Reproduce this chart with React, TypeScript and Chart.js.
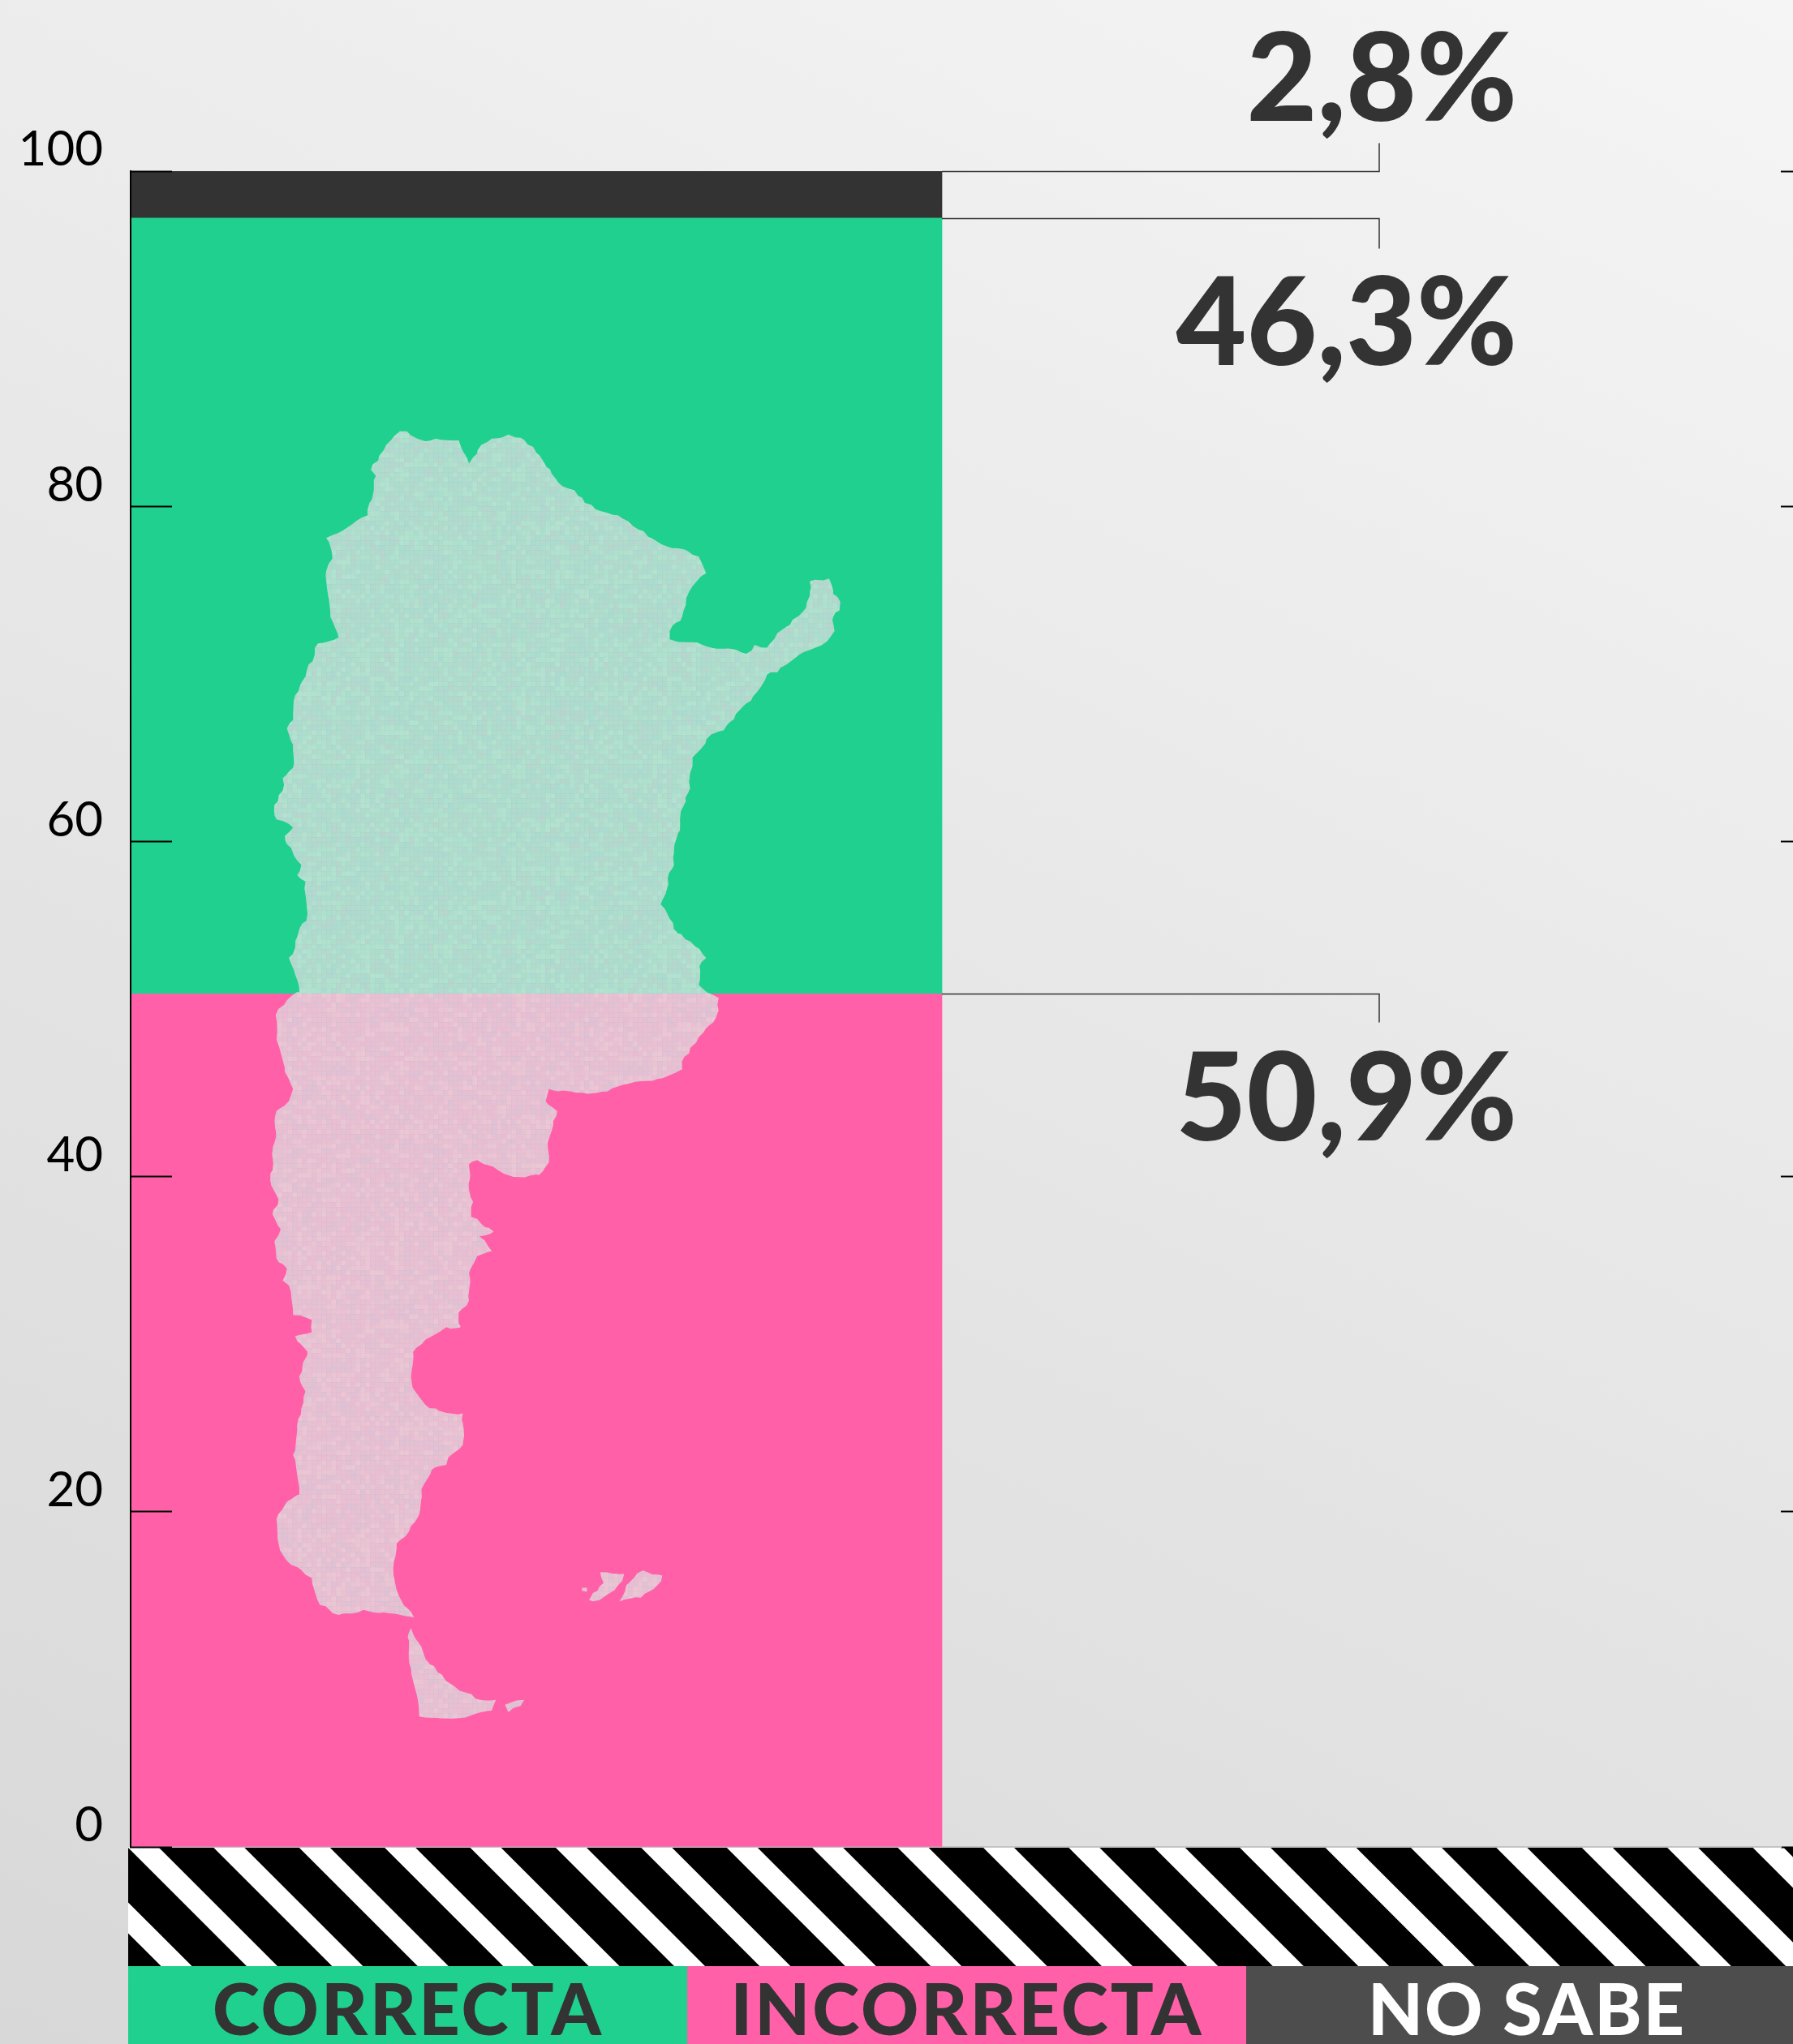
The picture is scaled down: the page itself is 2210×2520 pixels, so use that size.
import React, { useEffect, useRef } from "react";
import { Chart, registerables } from "chart.js";

Chart.register(...registerables);

// ---- data ----
const categories = ["CORRECTA", "INCORRECTA", "NO SABE"];
const correcta = [46.3];
const incorrecta = [50.9];
const noSabe = [2.8];
const yTicks = [0, 20, 40, 60, 80, 100];

// ---- styles ----
const GREEN = "#1FD08F";
const PINK = "#FF60A8";
const DARK = "#333333";
const LEGEND_GREY = "#4D4D4D";
const FONT = "Lato, 'Noto Sans', sans-serif";

// ---- layout ----
const W = 2210;
const H = 2520;
const AXIS_X = 161;
const PLOT_TOP = 211;
const PLOT_BOTTOM = 2277;
const STRIPE_LEFT = 158;
const STRIPE_BOTTOM = 2424;
const RIGHT_TICK = 15;
const BAR_PX = 1000;
const CONNECTOR_X = 1700;
const VALUE_RIGHT = 1870;

const MAP_NORTH: number[][] = [
  [378,62],[395,62],[420,80],[440,86],[465,80],[520,84],[530,110],[545,140],[555,125],[575,95],[600,80],[640,70],[670,78],[700,100],[725,135],[745,165],[760,185],[800,205],[825,235],[850,250],[905,265],[930,280],[955,300],[985,320],[1010,335],[1050,345],[1100,365],[1118,405],[1095,425],[1070,465],[1060,510],[1045,525],[1030,545],[1030,565],[1080,572],[1130,585],[1190,590],[1215,600],[1235,578],[1265,585],[1290,550],[1320,530],[1350,500],[1368,460],[1368,425],[1415,418],[1425,455],[1442,475],[1440,495],[1425,510],[1428,545],[1410,570],[1370,590],[1320,620],[1290,645],[1265,650],[1250,680],[1215,720],[1190,745],[1160,785],[1130,795],[1105,830],[1085,850],[1078,900],[1075,935],[1062,970],[1055,1010],[1045,1050],[1040,1110],[1028,1130],[1020,1180],[1008,1205],[1030,1240],[1040,1265],[1080,1295],[1118,1335],[1102,1355],[1100,1400],[1120,1418],
];
const MAP_SOUTH: number[][] = [
  [1148,50],[1148,75],[1135,100],[1100,130],[1065,170],[1060,195],[1000,215],[930,225],[880,240],[820,243],[760,240],[738,235],[730,260],[758,280],[745,320],[735,345],[738,385],[715,410],[680,415],[630,408],[590,390],[565,380],[545,388],[545,440],[555,465],[550,495],[575,510],[605,525],[570,535],[600,565],[565,575],[545,610],[545,665],[520,690],[525,720],[490,720],[440,745],[410,770],[405,820],[415,850],[450,885],[500,895],[530,895],[530,960],[495,985],[490,1000],[455,1010],[430,1050],[425,1100],[400,1135],[370,1160],[362,1210],[375,1265],[412,1310],[380,1305],[340,1300],[290,1295],[230,1305],[185,1285],[165,1230],[130,1208],[105,1195],[85,1160],[80,1110],[105,1075],[135,1060],[120,980],[130,930],[140,885],[150,850],[135,820],[155,770],[125,738],[165,730],[165,705],[120,695],[110,635],[95,625],[105,600],[80,580],[75,545],[90,520],[70,490],[85,460],[65,420],[75,345],[80,280],[110,260],[120,235],[100,200],[80,135],[78,85],[105,55],[130,38],
];
const MAP_WEST: number[][] = [
  [135,1418],[125,1375],[110,1335],[125,1310],[135,1265],[152,1245],[150,1150],[130,1135],[140,1110],[105,1060],[100,1040],[120,1020],[80,1000],[75,965],[95,930],[95,900],[120,875],[120,820],[105,780],[120,760],[125,700],[150,655],[180,575],[230,560],[210,510],[200,400],[215,370],[200,320],[265,285],[300,265],[320,170],[308,155],[345,95],
];
const MAP_ISLANDS: number[][][] = [
  [[818,1250],[830,1250],[830,1258],[818,1256]],
  [[862,1218],[920,1222],[905,1245],[860,1275],[835,1275],[845,1260],[870,1240]],
  [[965,1215],[1012,1225],[1000,1245],[960,1270],[908,1278],[925,1245]],
  [[405,1332],[430,1370],[440,1395],[500,1445],[560,1475],[610,1478],[600,1500],[520,1515],[425,1512],[405,1415],[397,1350]],
  [[632,1488],[678,1478],[670,1490],[640,1503]],
];

const fromNorth = ([x, y]: number[]) => [300 + x / 1.96, 500 + y / 1.96];
const fromSouth = ([x, y]: number[]) => [300 + x / 1.96, 1200 + y / 1.65];

function weaveTile(ctx: CanvasRenderingContext2D) {
  const cell = 6;
  const n = 61;
  const tile = document.createElement("canvas");
  tile.width = n * cell;
  tile.height = n * cell;
  const t = tile.getContext("2d")!;
  let seed = 12345;
  const next = () => {
    seed = (seed * 1103515245 + 12345) & 0x7fffffff;
    return seed / 0x7fffffff;
  };
  for (let j = 0; j < n; j++) {
    for (let i = 0; i < n; i++) {
      const h = next();
      const a = 0.05 + next() * 0.13;
      t.fillStyle = h < 0.35 ? `rgba(225,170,215,${a})` : h < 0.7 ? `rgba(175,190,225,${a})` : `rgba(255,255,255,${a / 2})`;
      t.fillRect(i * cell, j * cell, cell, cell);
      t.fillStyle = "rgba(120,150,150,0.05)";
      t.fillRect(i * cell, j * cell, cell, 1);
      t.fillRect(i * cell, j * cell, 1, cell);
    }
  }
  return ctx.createPattern(tile, "repeat")!;
}

// Small bumps on the traced edge, as the paper-cut outline has.
function tracePoly(ctx: CanvasRenderingContext2D, pts: number[][]) {
  ctx.beginPath();
  pts.forEach(([x, y], i) => {
    if (!i) ctx.moveTo(x, y);
    const [nx, ny] = pts[(i + 1) % pts.length];
    const len = Math.hypot(nx - x, ny - y);
    const steps = Math.max(1, Math.round(len / 7));
    for (let s = 1; s <= steps; s++) {
      const f = s / steps;
      const px = x + (nx - x) * f;
      const py = y + (ny - y) * f;
      const wob = s === steps ? 0 : 1.6;
      ctx.lineTo(px + Math.sin(py * 0.83 + px * 0.37) * wob, py + Math.cos(px * 0.91 - py * 0.29) * wob);
    }
  });
  ctx.closePath();
}

const backdropPlugin = {
  id: "backdrop",
  beforeDraw(chart: any) {
    const { ctx } = chart;

    // the tick labels sit a little closer to their ticks than a "bottom" baseline gives
    chart.scales.y.getLabelItems(chart.chartArea).forEach((item: any) => {
      if (!item.nudged) {
        item.nudged = true;
        item.options.translation = [item.options.translation[0], item.options.translation[1] + 4];
      }
    });

    ctx.save();
    const g = ctx.createLinearGradient(2210, 0, 831, 2912);
    g.addColorStop(0, "#F5F5F5");
    g.addColorStop(1, "#D8D8D8");
    ctx.fillStyle = g;
    ctx.fillRect(0, 0, W, H);

    // striped band
    ctx.beginPath();
    ctx.rect(STRIPE_LEFT, PLOT_BOTTOM, W - STRIPE_LEFT, STRIPE_BOTTOM - PLOT_BOTTOM);
    ctx.clip();
    ctx.fillStyle = "#000";
    ctx.fillRect(STRIPE_LEFT, PLOT_BOTTOM, W - STRIPE_LEFT, STRIPE_BOTTOM - PLOT_BOTTOM);
    ctx.fillStyle = "#FFF";
    const band = STRIPE_BOTTOM - PLOT_BOTTOM;
    for (let x = 157 - 105.4 * 3; x < W; x += 105.4) {
      ctx.beginPath();
      ctx.moveTo(x, PLOT_BOTTOM);
      ctx.lineTo(x + 38, PLOT_BOTTOM);
      ctx.lineTo(x + 38 + band, STRIPE_BOTTOM);
      ctx.lineTo(x + band, STRIPE_BOTTOM);
      ctx.closePath();
      ctx.fill();
    }
    ctx.restore();

    // legend
    const boxes = [
      { left: 158, right: 847, fill: GREEN, ink: DARK, cx: 503, track: "3px" },
      { left: 847, right: 1536, fill: PINK, ink: DARK, cx: 1192, track: "3px" },
      { left: 1536, right: W, fill: LEGEND_GREY, ink: "#FFFFFF", cx: 1882, track: "2px" },
    ];
    ctx.save();
    ctx.font = `900 88px ${FONT}`;
    ctx.textAlign = "center";
    ctx.textBaseline = "alphabetic";
    boxes.forEach((b, i) => {
      ctx.fillStyle = b.fill;
      ctx.fillRect(b.left, STRIPE_BOTTOM, b.right - b.left, H - STRIPE_BOTTOM);
      ctx.fillStyle = b.ink;
      (ctx as any).letterSpacing = b.track;
      ctx.fillText(categories[i], b.cx, 2509);
    });
    ctx.restore();
  },
  afterDatasetsDraw(chart: any) {
    const { ctx } = chart;
    ctx.save();

    // map overlay
    const outline = [
      ...MAP_NORTH.map(fromNorth),
      ...MAP_SOUTH.map(fromSouth),
      ...MAP_WEST.map(fromNorth),
    ];
    const shapes = [outline, ...MAP_ISLANDS.map((s) => s.map(fromSouth))];
    const weave = weaveTile(ctx);
    shapes.forEach((s) => {
      tracePoly(ctx, s);
      ctx.fillStyle = "rgba(226,230,226,0.73)";
      ctx.fill();
      ctx.fillStyle = weave;
      ctx.fill();
    });

    // connectors and value labels
    const notes = [
      { dataset: 2, drop: -35, baseline: -63 },
      { dataset: 1, drop: 37, baseline: 180 },
      { dataset: 0, drop: 35, baseline: 180 },
    ];
    notes.forEach((n) => {
      const el = chart.getDatasetMeta(n.dataset).data[0];
      const value = chart.data.datasets[n.dataset].data[0].y as number;
      const y = Math.round(el.y) + 0.5;
      ctx.strokeStyle = DARK;
      ctx.lineWidth = 1.5;
      ctx.beginPath();
      ctx.moveTo(el.x + el.width / 2, y);
      ctx.lineTo(CONNECTOR_X, y);
      ctx.lineTo(CONNECTOR_X, y + n.drop);
      ctx.stroke();
      ctx.fillStyle = DARK;
      ctx.font = `900 150px ${FONT}`;
      ctx.textAlign = "right";
      ctx.textBaseline = "alphabetic";
      ctx.fillText(`${value.toFixed(1).replace(".", ",")}%`, VALUE_RIGHT, y + n.baseline);
    });
    ctx.restore();
  },
};

export default function App() {
  const ref = useRef<HTMLCanvasElement | null>(null);

  useEffect(() => {
    document.body.style.margin = "0";
    const barCentre = BAR_PX / 2000;
    const toPoints = (vals: number[]) => vals.map((y) => ({ x: barCentre, y }));
    const chart = new Chart(ref.current!, {
      type: "bar",
      data: {
        datasets: [
          { label: categories[1], data: toPoints(incorrecta), backgroundColor: PINK },
          { label: categories[0], data: toPoints(correcta), backgroundColor: GREEN },
          { label: categories[2], data: toPoints(noSabe), backgroundColor: DARK },
        ] as any,
      },
      options: {
        animation: false,
        responsive: false,
        devicePixelRatio: 1,
        events: [],
        layout: { padding: { top: PLOT_TOP, bottom: H - PLOT_BOTTOM, left: 0, right: 0 } },
        datasets: { bar: { barThickness: BAR_PX, borderWidth: 0 } },
        plugins: { legend: { display: false }, title: { display: false }, tooltip: { enabled: false } },
        scales: {
          x: {
            type: "linear",
            stacked: true,
            offset: false,
            min: 0,
            max: (W - RIGHT_TICK - AXIS_X) / 1000,
            ticks: { display: false },
            grid: { display: false },
            border: { display: true, color: "#C4C4C4", width: 2 },
            afterFit: (s: any) => { s.height = 0; },
          },
          y: {
            type: "linear",
            stacked: true,
            min: 0,
            max: 100,
            position: "left",
            afterBuildTicks: (s: any) => { s.ticks = yTicks.map((value) => ({ value })); },
            afterFit: (s: any) => { s.width = AXIS_X; },
            border: { display: true, color: "#000", width: 2, z: 1 },
            grid: { drawOnChartArea: false, drawTicks: true, tickLength: -51, tickColor: "#000", tickWidth: 2, z: 1 },
            ticks: {
              color: "#000",
              align: "end",
              padding: 85,
              font: { family: FONT, size: 60, weight: "400" },
            },
          },
          yRight: {
            type: "linear",
            min: 0,
            max: 100,
            position: "right",
            afterBuildTicks: (s: any) => { s.ticks = yTicks.map((value) => ({ value })); },
            afterFit: (s: any) => { s.width = RIGHT_TICK; },
            border: { display: false },
            grid: { drawOnChartArea: false, drawTicks: true, tickLength: RIGHT_TICK, tickColor: "#000", tickWidth: 2 },
            ticks: { display: false },
          },
        },
      } as any,
      plugins: [backdropPlugin as any],
    });
    return () => chart.destroy();
  }, []);

  return (
    <div style={{ position: "absolute", left: 0, top: 0, width: W, height: H }}>
      <canvas ref={ref} width={W} height={H} style={{ display: "block", width: W, height: H }} />
    </div>
  );
}
